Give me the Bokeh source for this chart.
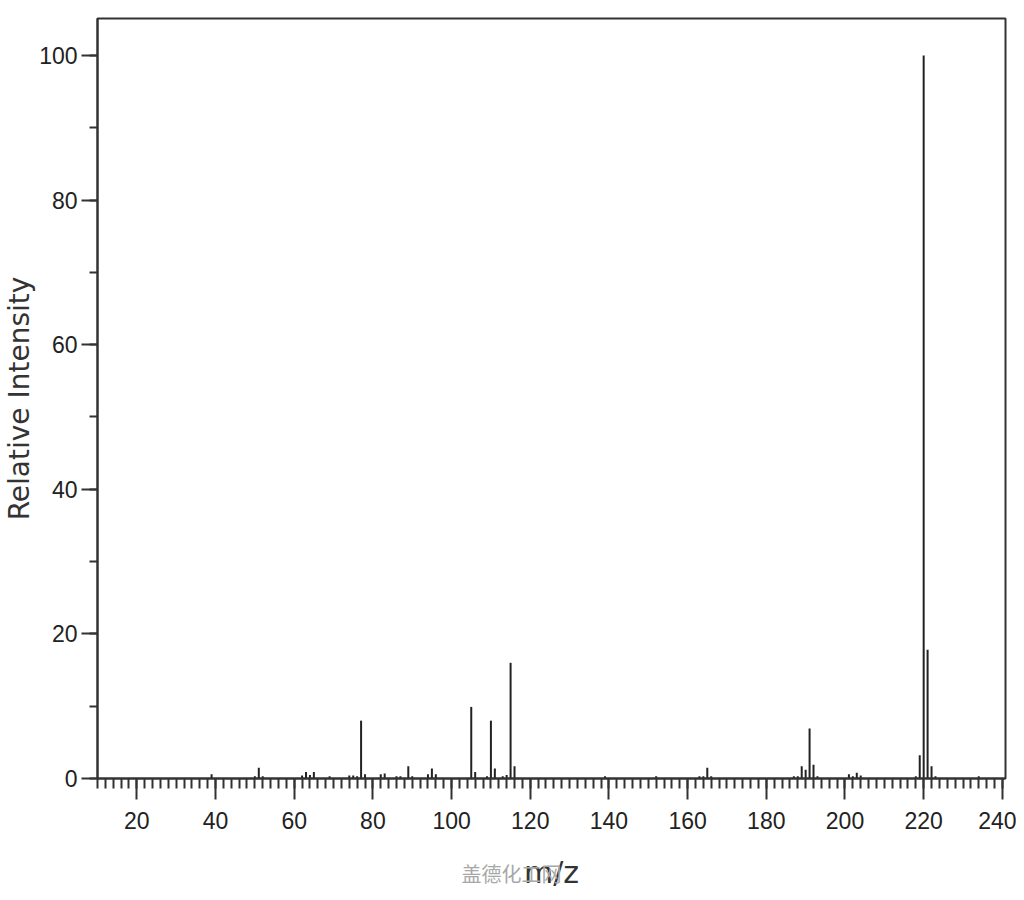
from bokeh.plotting import figure
from bokeh.models import (ColumnDataSource, LinearAxis, SingleIntervalTicker,
                          FixedTicker, Range1d)
from bokeh.embed import file_html
from bokeh.resources import INLINE

# ---- data ----
mz = [39, 50, 51, 52, 62, 63, 64, 65, 69, 74, 75, 76, 77, 78, 82, 83, 86, 87,
      89, 90, 94, 95, 96, 105, 106, 109, 110, 111, 113, 114, 115, 116, 139, 152,
      163, 164, 165, 166, 187, 188, 189, 190, 191, 192, 193, 201, 202, 203, 204,
      218, 219, 220, 221, 222, 223, 234]
intensity = [0.6, 0.3, 1.5, 0.3, 0.4, 0.9, 0.5, 0.9, 0.3, 0.4, 0.4, 0.3, 8.0,
             0.6, 0.6, 0.7, 0.3, 0.3, 1.7, 0.3, 0.6, 1.4, 0.6, 9.9, 0.9, 0.3,
             8.0, 1.4, 0.3, 0.5, 16.0, 1.7, 0.3, 0.3, 0.3, 0.3, 1.5, 0.3, 0.3,
             0.3, 1.7, 1.2, 6.9, 1.9, 0.3, 0.6, 0.3, 0.8, 0.4, 0.3, 3.2, 100.0,
             17.8, 1.7, 0.3, 0.3]
base = [0] * len(mz)

x_label = "m/z"
y_label = "Relative Intensity"
watermark = "盖德化工网"

src = ColumnDataSource(dict(mz=mz, inten=intensity, base=base))

AX = "#333333"

p = figure(width=1016, height=892, output_backend="svg", toolbar_location=None,
           x_range=Range1d(10, 240.8), y_range=Range1d(0, 105.1),
           x_axis_type=None, y_axis_type=None,
           min_border_left=96, min_border_right=11, min_border_top=18,
           min_border_bottom=114)
p.background_fill_color = "white"
p.border_fill_color = "white"
p.grid.visible = False
p.outline_line_color = AX
p.outline_line_width = 2

p.segment(x0="mz", y0="base", x1="mz", y1="inten", source=src,
          line_color="#222222", line_width=2)

# main x axis
xa = LinearAxis(ticker=SingleIntervalTicker(interval=20, num_minor_ticks=10),
                axis_label=x_label)
xa.axis_line_color = AX
xa.axis_line_width = 2
xa.major_tick_line_color = AX
xa.major_tick_line_width = 2
xa.major_tick_out = 21
xa.major_tick_in = 0
xa.minor_tick_line_color = AX
xa.minor_tick_line_width = 2
xa.minor_tick_out = 10
xa.minor_tick_in = 0
xa.major_label_text_font = "Liberation Sans"
xa.major_label_text_font_size = "23px"
xa.major_label_text_color = "#222222"
xa.major_label_standoff = 12
xa.axis_label_text_font = "DejaVu Sans"
xa.axis_label_text_font_size = "30px"
xa.axis_label_text_font_style = "normal"
xa.axis_label_text_color = "#333333"
xa.axis_label_standoff = 23
p.add_layout(xa, "below")

# watermark carried by an empty axis stacked below, pulled up over the m/z label
xw = LinearAxis(ticker=FixedTicker(ticks=[], minor_ticks=[]),
                axis_label=watermark + "\u3000\u3000\u3000\u3000")
xw.axis_line_color = None
xw.major_tick_line_color = None
xw.minor_tick_line_color = None
xw.major_label_text_font_size = "1px"
xw.major_label_standoff = 0
xw.axis_label_text_font = "Noto Sans CJK SC"
xw.axis_label_text_font_size = "20px"
xw.axis_label_text_font_style = "normal"
xw.axis_label_text_color = "#a8a8a8"
xw.axis_label_standoff = -34
p.add_layout(xw, "below")

# y axis
ya = LinearAxis(ticker=SingleIntervalTicker(interval=20, num_minor_ticks=2),
                axis_label=y_label)
ya.axis_line_color = AX
ya.axis_line_width = 2
ya.major_tick_line_color = AX
ya.major_tick_line_width = 2
ya.major_tick_out = 16
ya.major_tick_in = 0
ya.minor_tick_line_color = AX
ya.minor_tick_line_width = 2
ya.minor_tick_out = 8
ya.minor_tick_in = 0
ya.major_label_text_font = "Liberation Sans"
ya.major_label_text_font_size = "23px"
ya.major_label_text_color = "#222222"
ya.major_label_standoff = 4
ya.axis_label_text_font = "DejaVu Sans"
ya.axis_label_text_font_size = "28px"
ya.axis_label_text_font_style = "normal"
ya.axis_label_text_color = "#333333"
ya.axis_label_standoff = 0
p.add_layout(ya, "left")

open("out.html", "w").write(file_html(p, INLINE))
